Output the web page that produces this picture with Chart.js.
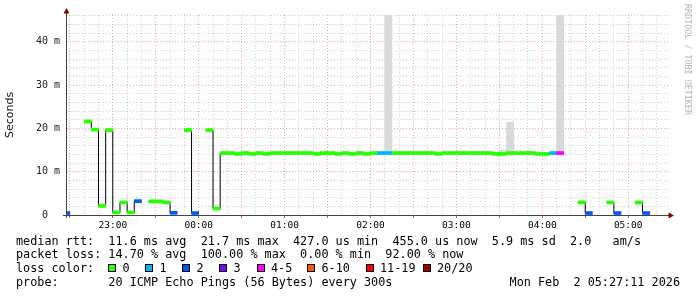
<!DOCTYPE html>
<html>
<head>
<meta charset="utf-8">
<script src="https://cdn.jsdelivr.net/npm/chart.js@4.4.1/dist/chart.umd.min.js"></script>
<style>
  body { margin: 0; background: #fff; }
  #wrap { position: relative; width: 697px; height: 297px; overflow: hidden; }
  #chart { position: absolute; left: 0; top: 0; }
  .txt { position: absolute; font-family: "DejaVu Sans Mono", monospace; font-size: 11.8px; line-height: 14px; white-space: pre; color: #000; }
  .sw { position: absolute; top: 264px; width: 8px; height: 8px; box-sizing: border-box; border: 1px solid #000; }
  #mark { position: absolute; left: 683px; top: 4px; writing-mode: vertical-rl; font-family: "DejaVu Sans Mono", monospace; font-size: 8.4px; line-height: 9px; color: #b4b4b4; white-space: pre; }
</style>
</head>
<body>
<div id="wrap">
  <canvas id="chart" width="697" height="297"></canvas>
  <div id="mark">RRDTOOL / TOBI OETIKER</div>
  <div class="txt" style="left:16px;top:233.8px">median rtt:  11.6 ms avg  21.7 ms max  427.0 us min  455.0 us now  5.9 ms sd  2.0   am/s</div>
  <div class="txt" style="left:16px;top:246.8px">packet loss: 14.70 % avg  100.00 % max  0.00 % min  92.00 % now</div>
  <div class="txt" style="left:16px;top:260.8px">loss color:</div>
  <div class="txt" style="left:16px;top:275px">probe:       20 ICMP Echo Pings (56 Bytes) every 300s</div>
  <div class="txt" style="right:17px;top:275px">Mon Feb  2 05:27:11 2026</div>
</div>
<script>
// 5 minute rrd slots, first one starts at 22:25
const firstSlot = "22:25";
const slotMinutes = 5;

// median rtt per slot (ms), null = no data
const medianMs = [
  0.45, null, null, 21.6, 19.7, 2.1, 19.6, 0.6, 2.9, 0.6, 3.2, null,
  3.15, 3.15, 2.9, 0.5, null, 19.6, 0.45, null, 19.6, 1.5,
  14.3, 14.3, 14.1, 14.3, 14.1, 14.3, 14.1, 14.3,
  14.3, 14.3, 14.3, 14.3, 14.3, 14.1, 14.3, 14.3,
  14.1, 14.3, 14.1, 14.3, 14.1, 14.3, 14.3, 14.3,
  14.3, 14.3, 14.3, 14.3, 14.3, 14.3, 14.1, 14.3,
  14.3, 14.3, 14.3, 14.3, 14.3, 14.3, 14.1, 14.1,
  14.3, 14.3, 14.3, 14.3, 14.1, 14.1, 14.3, 14.3,
  null, null, 2.9, 0.45, null, null, 2.9, 0.45, null, null, 2.9, 0.45
];

// index into lossColors per slot
const lossBucket = [
  2, null, null, 0, 0, 0, 0, 0, 0, 0, 2, null,
  0, 0, 0, 2, null, 0, 2, null, 0, 0,
  0, 0, 0, 0, 0, 0, 0, 0,
  0, 0, 0, 0, 0, 0, 0, 0,
  0, 0, 0, 0, 0, 0, 1, 1,
  0, 0, 0, 0, 0, 0, 0, 0,
  0, 0, 0, 0, 0, 0, 0, 0,
  0, 0, 0, 0, 0, 0, 1, 4,
  null, null, 0, 2, null, null, 0, 2, null, null, 0, 2
];

// top of the smoke per slot (ms)
const smokeMaxMs = [
  null, null, null, null, null, null, null, null, null, null, null, null,
  null, null, null, null, null, null, null, null, null, null,
  null, null, null, null, null, null, null, null,
  null, null, null, null, null, null, null, null,
  null, null, null, null, null, null, null, 47,
  null, null, null, null, null, null, null, null,
  null, null, null, null, null, null, null, 15.0,
  21.4, null, null, null, null, null, null, 47,
  null, null, null, null, null, null, null, null, null, null, null, null
];

const lossLabels = ["0", "1", "2", "3", "4-5", "6-10", "11-19", "20/20"];
const lossColors = ["#26ff00", "#00b8ff", "#0059ff", "#7e00ff", "#ff00ff", "#ff5500", "#ff0000", "#a10000"];

const yTickMs = [0, 10, 20, 30, 40];

// minutes relative to midnight
function toMin(s) {
  const p = s.split(":");
  let m = parseInt(p[0]) * 60 + parseInt(p[1]);
  return m >= 720 ? m - 1440 : m;
}
function hhmm(m) {
  m = ((m % 1440) + 1440) % 1440;
  const h = Math.floor(m / 60), mm = m % 60;
  return String(h).padStart(2, "0") + ":" + String(mm).padStart(2, "0");
}

const start = toMin(firstSlot);
const xs = medianMs.map((_, i) => start + i * slotMinutes + slotMinutes / 2);

const medianBars = [];
medianMs.forEach((v, i) => {
  if (v !== null) medianBars.push({ x: xs[i], y: [v - 0.35, v + 0.35], loss: lossBucket[i] });
});
const smokeBars = [];
smokeMaxMs.forEach((v, i) => {
  if (v !== null) smokeBars.push({ x: xs[i], y: [medianMs[i], v] });
});
const medianLine = medianMs.map((v, i) => ({ x: xs[i], y: v }));

// legend row
const legendX = [108, 145, 182, 219, 256.5, 307, 365.5, 422.5];
const wrap = document.getElementById("wrap");
lossLabels.forEach((lab, i) => {
  const sw = document.createElement("div");
  sw.className = "sw";
  sw.style.left = legendX[i] + "px";
  sw.style.background = lossColors[i];
  wrap.appendChild(sw);
  const t = document.createElement("div");
  t.className = "txt";
  t.style.left = (legendX[i] + 14.5) + "px";
  t.style.top = "260.8px";
  t.textContent = lab;
  wrap.appendChild(t);
});

const minorGrid = "rgba(143,143,143,0.42)";
const majorGrid = "rgba(222,80,80,0.5)";

// axis lines and arrows, rrdtool style
const axisDecor = {
  id: "axisDecor",
  afterDatasetsDraw(chart) {
    const { ctx, chartArea: a } = chart;
    ctx.save();
    ctx.strokeStyle = "#444";
    ctx.lineWidth = 1;
    ctx.beginPath();
    ctx.moveTo(a.left - 4, a.bottom + 0.5);
    ctx.lineTo(a.right + 1, a.bottom + 0.5);
    ctx.moveTo(a.left - 0.5, a.bottom + 3);
    ctx.lineTo(a.left - 0.5, a.top - 2);
    ctx.stroke();
    ctx.fillStyle = "#7f0000";
    ctx.beginPath();
    ctx.moveTo(a.left - 0.5, a.top - 7);
    ctx.lineTo(a.left - 3.5, a.top - 1.5);
    ctx.lineTo(a.left + 2.5, a.top - 1.5);
    ctx.closePath();
    ctx.fill();
    ctx.beginPath();
    ctx.moveTo(a.right + 5, a.bottom + 0.5);
    ctx.lineTo(a.right - 0.5, a.bottom - 2.5);
    ctx.lineTo(a.right - 0.5, a.bottom + 3.5);
    ctx.closePath();
    ctx.fill();
    ctx.restore();
  }
};

new Chart(document.getElementById("chart"), {
  type: "bar",
  data: {
    datasets: [
      {
        type: "bar",
        data: smokeBars,
        backgroundColor: "#d9d9d9",
        borderWidth: 0,
        grouped: false,
        barPercentage: 1,
        categoryPercentage: 1,
        order: 3,
        clip: 0,
      },
      {
        type: "line",
        data: medianLine,
        borderColor: "#000",
        borderWidth: 1,
        pointRadius: 0,
        stepped: "middle",
        spanGaps: false,
        order: 2,
        clip: 0,
      },
      {
        type: "bar",
        data: medianBars,
        backgroundColor: (c) => lossColors[c.raw.loss],
        borderWidth: 0,
        grouped: false,
        barPercentage: 1,
        categoryPercentage: 1,
        order: 1,
        clip: 0,
      },
    ],
  },
  options: {
    responsive: false,
    animation: false,
    events: [],
    layout: { padding: { top: 15, right: 28, left: 0, bottom: 0 } },
    plugins: { legend: { display: false }, tooltip: { enabled: false } },
    scales: {
      x: {
        type: "linear",
        min: -92,
        max: 328.5,
        offset: false,
        afterFit: (s) => { s.height = 82; },
        ticks: {
          stepSize: 10,
          autoSkip: false,
          maxRotation: 0,
          maxTicksLimit: 100,
          includeBounds: false,
          padding: 2,
          color: "#000",
          font: { family: "DejaVu Sans Mono", size: 9.5 },
          callback: (v) => (v % 60 === 0 ? hhmm(v) : ""),
        },
        grid: {
          offset: false,
          color: (c) => (c.tick && c.tick.value % 30 === 0 ? majorGrid : minorGrid),
          lineWidth: 1,
          drawTicks: true,
          tickLength: 3,
          tickColor: (c) => (c.tick && c.tick.value % 30 === 0 ? "#de5050" : "rgba(0,0,0,0)"),
        },
        border: { display: false, dash: [1, 2] },
      },
      y: {
        min: 0,
        max: 46.16,
        afterFit: (s) => { s.width = 67; },
        ticks: {
          stepSize: 2,
          autoSkip: false,
          maxTicksLimit: 100,
          includeBounds: false,
          padding: 7,
          color: "#222",
          font: { family: "DejaVu Sans Mono", size: 10 },
          callback: (v) => (yTickMs.includes(v) ? (v === 0 ? "0  " : v + " m") : ""),
        },
        grid: {
          color: (c) => (c.tick && c.tick.value % 10 === 0 ? majorGrid : minorGrid),
          lineWidth: 1,
          drawTicks: false,
        },
        border: { display: false, dash: [1, 2] },
        title: {
          display: true,
          text: "Seconds",
          color: "#111",
          font: { family: "DejaVu Sans", size: 11 },
          padding: { top: 4, bottom: 0 },
        },
      },
    },
  },
  plugins: [axisDecor],
});
</script>
</body>
</html>
